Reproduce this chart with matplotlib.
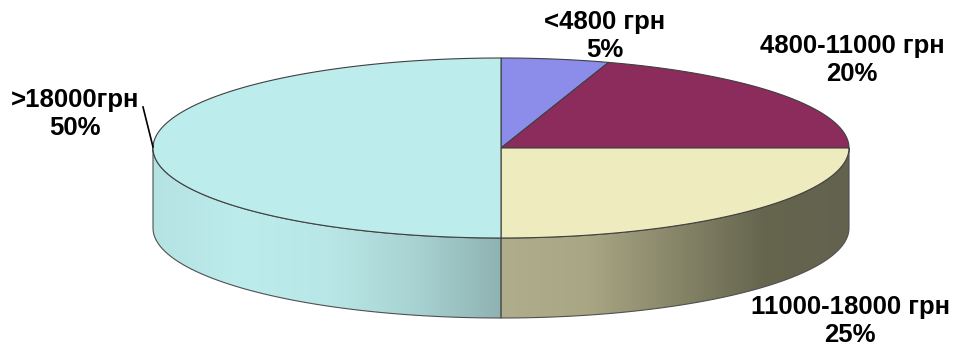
import numpy as np
import matplotlib.pyplot as plt
from matplotlib.patches import Polygon
from matplotlib.colors import LinearSegmentedColormap

# Дані
labels = ['<4800 грн', '4800-11000 грн', '11000-18000 грн', '>18000грн']
shares = [5, 20, 25, 50]
colors = ['#8c8ceb', '#8b2c5c', '#eeecbf', '#bdecec']
side_stops = {
    2: ['#b0ad8c', '#a8a683', '#878669', '#66664f', '#62624e'],
    3: ['#b5e2e2', '#bdecec', '#b9e7e7', '#a9d3d3', '#8fb2b2'],
}
label_pos = [(605, 36), (852, 60), (850, 321), (75, 114)]

# Геометрія "3D" кола у пікселях
cx, cy, rx, ry, depth = 501, 148, 348, 90, 80

plt.rcParams['font.family'] = ['Liberation Sans', 'DejaVu Sans']
fig = plt.figure(figsize=(9.55, 3.5), dpi=100)
ax = fig.add_axes([0, 0, 1, 1])
ax.set_xlim(0, 955)
ax.set_ylim(350, 0)
ax.axis('off')


def pt(t, dy=0):
    return cx + rx * np.cos(t), cy - ry * np.sin(t) + dy


# кути секторів: від 12 години за годинниковою стрілкою
angles = []
start = 90.0
for s in shares:
    end = start - 360 * s / sum(shares)
    angles.append((start, end))
    start = end

# бічні стінки (тільки передня частина, 180..360 градусів)
for i, (a1, a2) in enumerate(angles):
    lo, hi = min(a1, a2), max(a1, a2)
    lo, hi = lo % 360, lo % 360 + (hi - lo)
    s_lo, s_hi = max(lo, 180), min(hi, 360)
    if s_hi <= s_lo:
        s_lo, s_hi = max(lo + 360, 180), min(hi + 360, 360)
    if s_hi <= s_lo:
        continue
    t = np.radians(np.linspace(s_lo, s_hi, 120))
    top = np.array([pt(a) for a in t])
    bot = np.array([pt(a, depth) for a in t[::-1]])
    poly = np.vstack([top, bot])
    patch = Polygon(poly, closed=True, facecolor='none', edgecolor='#505050', lw=0.8, zorder=3)
    ax.add_patch(patch)
    cmap = LinearSegmentedColormap.from_list('g%d' % i, side_stops[i])
    x0, x1 = poly[:, 0].min(), poly[:, 0].max()
    y0, y1 = poly[:, 1].min(), poly[:, 1].max()
    im = ax.imshow(np.linspace(0, 1, 256)[None, :], cmap=cmap, aspect='auto',
                   extent=[x0, x1, y1, y0], zorder=2, interpolation='bilinear')
    im.set_clip_path(patch)

# верхня поверхня
for i, (a1, a2) in enumerate(angles):
    t = np.radians(np.linspace(a1, a2, 200))
    arc = np.array([pt(a) for a in t])
    poly = np.vstack([[cx, cy], arc])
    ax.add_patch(Polygon(poly, closed=True, facecolor=colors[i], edgecolor='#404040',
                         lw=0.8, zorder=4))

# підписи
for i, (x, y) in enumerate(label_pos):
    ax.text(x, y, '%s\n%d%%' % (labels[i], shares[i]), ha='center', va='center',
            fontsize=18.5, fontweight='bold', linespacing=1.22, zorder=6)

ax.plot([143, 153], [107, 147], color='black', lw=1.2, zorder=5)

fig.savefig('out.png', dpi=100)
